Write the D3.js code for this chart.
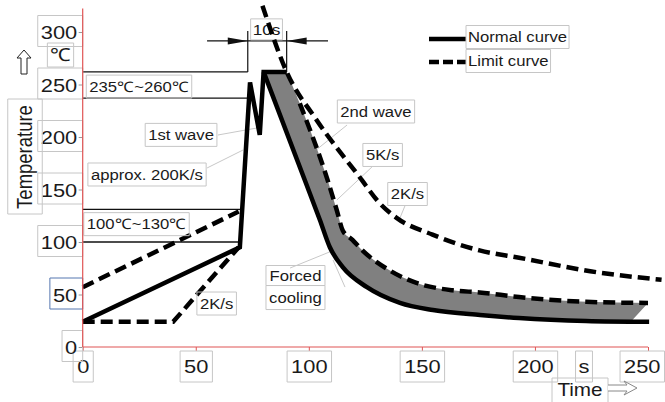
<!DOCTYPE html>
<html>
<head>
<meta charset="utf-8">
<script src="https://cdn.jsdelivr.net/npm/d3@7"></script>
<style>
body { margin: 0; background: #fff; }
svg { display: block; }
text { font-family: "Liberation Sans", Arial, sans-serif; fill: #1a1a1a; }
</style>
</head>
<body>
<svg width="665" height="402"></svg>
<script>
// ticks
const xTicks = [0, 50, 100, 150, 200, 250];
const yTicks = [0, 50, 100, 150, 200, 250, 300];

// curves as [time s, temperature C]
const normalRise = [[0, 24], [69.5, 95], [74, 252], [78.3, 202], [80, 262], [90.2, 262]];
const normalFall = [[80, 262], [98.2, 159], [104.9, 121], [109.3, 95], [115, 76], [125.7, 57], [140.3, 42],
    [154.9, 35.2], [175.7, 30.5], [193, 27.6], [222.6, 24.8], [250.5, 24]];
const limitLow = [[0, 24], [40, 24], [69, 95]];
const limitHigh = [[0, 57], [69, 129]];
const limitInner = [[90.2, 262], [96, 232], [108.3, 159], [112.4, 130], [115, 111], [119.3, 102], [123.7, 92],
    [135.7, 73], [147.6, 61], [163.5, 54], [175.5, 52], [193, 47.6], [222.6, 43], [250, 42]];
const limitOuter = [[79.5, 325], [90.2, 262], [103.5, 216], [122.4, 162], [131.3, 137], [138.8, 123],
    [154.7, 107], [175.5, 92], [193, 85], [228, 71], [256, 64]];
const bandCut = [243, 25.5];

// thin range lines: [temperature, from t, to t]
const rangeLines = [[262, 0, 73], [237, 0, 73], [131, 0, 69.6], [100, 0, 69.6]];
const tenSec = [73, 90.2];

// boxed notes: [t, T, text]
const notes = [
    [24.9, 248, "235℃~260℃"],
    [43.5, 202, "1st wave"],
    [28.4, 164.3, "approx. 200K/s"],
    [23.8, 117, "100℃~130℃"],
    [59.2, 41.4, "2K/s"],
    [129.7, 224.3, "2nd wave"],
    [132.6, 182.9, "5K/s"],
    [143.6, 145.7, "2K/s"]
];
// leader lines: [t1, T1, t2, T2]
const leaders = [
    [59.8, 201.9, 77.1, 208.6],
    [55, 170.5, 70.9, 187.6],
    [91.7, 75.2, 110.2, 91.4],
    [110.7, 82.9, 116, 57.1],
    [116.9, 211.4, 96.1, 175.2],
    [127.9, 171.4, 112.4, 140],
    [142.5, 134.3, 140.3, 122.9]
];

const SX = 1.15; // the picture's text is stretched sideways
const svg = d3.select("svg");
const x = d3.scaleLinear().domain([0, 250]).range([82.7, 648]);
const y = d3.scaleLinear().domain([0, 300]).range([347, 32]);

function boxLabel(sel, px, py, str, size, opt) {
    opt = opt || {};
    const g = sel.append("g").attr("transform", `translate(${px},${py}) scale(${SX},1)`);
    const t = g.append("text")
        .attr("text-anchor", opt.anchor || "middle")
        .attr("dy", "0.35em")
        .attr("font-size", size)
        .text(str);
    const bb = t.node().getBBox();
    const pad = (opt.pad || 3) / SX;
    const h = opt.h || 22;
    let bx = bb.x - pad, bw = bb.width + 2 * pad;
    if (opt.w) { bx = bb.x + bb.width / 2 - opt.w / SX / 2; bw = opt.w / SX; }
    // keep it inside the page
    const over = opt.maxX ? (opt.maxX - px) / SX - (bx + bw) : 0;
    if (over < 0) g.attr("transform", `translate(${px + over * SX},${py}) scale(${SX},1)`);
    g.insert("rect", "text")
        .attr("x", bx).attr("y", -h / 2 + (opt.dyBox || 0))
        .attr("width", bw).attr("height", h)
        .attr("fill", "none")
        .attr("stroke", opt.stroke || "#c6c6c6")
        .attr("vector-effect", "non-scaling-stroke");
    return g;
}

const line = d3.line().x(d => x(d[0])).y(d => y(d[1]));
const smooth = d3.line().x(d => x(d[0])).y(d => y(d[1])).curve(d3.curveMonotoneX);

// leader lines
svg.append("g").selectAll("line").data(leaders).join("line")
    .attr("x1", d => x(d[0])).attr("y1", d => y(d[1]))
    .attr("x2", d => x(d[2])).attr("y2", d => y(d[3]))
    .attr("stroke", "#c8c8c8").attr("stroke-width", 1);

// range lines
svg.append("g").selectAll("line").data(rangeLines).join("line")
    .attr("x1", d => x(d[1])).attr("x2", d => x(d[2]))
    .attr("y1", d => y(d[0])).attr("y2", d => y(d[0]))
    .attr("stroke", "#111").attr("stroke-width", 1.3);

// 10 s dimension
svg.append("g").selectAll("line").data(tenSec).join("line")
    .attr("x1", d => x(d)).attr("x2", d => x(d))
    .attr("y1", y(262)).attr("y2", y(301))
    .attr("stroke", "#111").attr("stroke-width", 1.2);
const dimY = y(291.5);
svg.append("line").attr("x1", x(55)).attr("x2", x(108.5)).attr("y1", dimY).attr("y2", dimY)
    .attr("stroke", "#111").attr("stroke-width", 1.2);
svg.append("path")
    .attr("d", `M${x(tenSec[0])},${dimY} l-20,-3.5 v7 Z M${x(tenSec[1])},${dimY} l20,-3.5 v7 Z`)
    .attr("fill", "#111");
boxLabel(svg, x(81.3), y(302.5), "10s", 15, { h: 21, pad: 2 });

// gray band between normal and inner limit
const lowerPart = normalFall.filter(d => d[0] <= bandCut[0]);
lowerPart.push(bandCut);
const bandD = smooth(limitInner) + "L" + smooth(lowerPart.slice().reverse()).slice(1) + "Z";
svg.append("path").attr("d", bandD).attr("fill", "#808080");

// curves
const solid = svg.append("g").attr("fill", "none").attr("stroke", "#000").attr("stroke-width", 4.5);
solid.append("path").attr("d", line(normalRise)).attr("stroke-linejoin", "miter").attr("stroke-miterlimit", 6);
solid.append("path").attr("d", smooth(normalFall));

const dashed = svg.append("g").attr("fill", "none").attr("stroke", "#000")
    .attr("stroke-width", 4.5).attr("stroke-dasharray", "12,6");
dashed.append("path").attr("d", line(limitLow));
dashed.append("path").attr("d", line(limitHigh));
dashed.append("path").attr("d", smooth(limitInner.slice(1)));
dashed.append("path").attr("d", smooth(limitOuter));

// notes
notes.forEach(n => boxLabel(svg, x(n[0]), y(n[1]), n[2], 14.5, { h: 23 }));
boxLabel(svg, x(94.1), y(68.1), "Forced", 14.5, { h: 20, w: 59 });
boxLabel(svg, x(94.1), y(47.1), "cooling", 14.5, { h: 24, w: 59 });

// axes
const gx = svg.append("g").attr("transform", `translate(0,${y(0)})`)
    .call(d3.axisBottom(x).tickValues(xTicks).tickSize(4));
gx.select(".domain").remove();
gx.selectAll(".tick line").attr("stroke", "#e05555");
gx.selectAll(".tick").each(function (d) {
    const tk = d3.select(this);
    tk.select("text").remove();
    boxLabel(tk, 0, 19.5, String(d), 19, { h: 31, pad: 4, maxX: 664 - x(d) });
});

const gy = svg.append("g").attr("transform", `translate(${x(0)},0)`)
    .call(d3.axisLeft(y).tickValues(yTicks).tickSize(4));
gy.select(".domain").remove();
gy.selectAll(".tick line").attr("stroke", "#999");
gy.selectAll(".tick").each(function (d) {
    const tk = d3.select(this);
    tk.select("text").remove();
    const g = tk.append("g").attr("transform", `translate(-5.5,0) scale(${SX},1)`);
    const t = g.append("text").attr("text-anchor", "end").attr("dy", "0.35em")
        .attr("font-size", 19).text(d);
    const bb = t.node().getBBox();
    g.insert("rect", "text")
        .attr("x", bb.x - 3 / SX).attr("y", -17)
        .attr("width", -bb.x + 3 / SX + 5.5 / SX).attr("height", 31)
        .attr("fill", "none")
        .attr("stroke", d === 50 ? "#5577b0" : "#c6c6c6")
        .attr("vector-effect", "non-scaling-stroke");
});

// red axis lines
svg.append("line").attr("x1", x(0)).attr("x2", x(0)).attr("y1", y(0)).attr("y2", y(322.5))
    .attr("stroke", "#e05555").attr("stroke-width", 1.2);
svg.append("line").attr("x1", x(0)).attr("x2", x(250)).attr("y1", y(0)).attr("y2", y(0))
    .attr("stroke", "#e05555").attr("stroke-width", 1.2);

// unit labels and axis titles
boxLabel(svg, 60.5, 55, "℃", 18, { h: 24, pad: 3 });
boxLabel(svg, 584, 366.5, "s", 19, { h: 31, pad: 3 });
boxLabel(svg, 580, 390, "Time", 18, { h: 30, w: 56, dyBox: 3 });
const tt = svg.append("g").attr("transform", `translate(25,157) scale(${SX},1) rotate(-90)`);
tt.append("rect").attr("x", -57).attr("y", -15).attr("width", 115).attr("height", 30)
    .attr("fill", "none").attr("stroke", "#c6c6c6").attr("vector-effect", "non-scaling-stroke");
tt.append("text").attr("text-anchor", "middle").attr("dy", "0.35em").attr("font-size", 18.5).text("Temperature");

// hollow arrows
svg.append("path").attr("d", "M24,50 L31,58 L27,58 L27,74 L21,74 L21,58 L17,58 Z")
    .attr("fill", "#fff").attr("stroke", "#222").attr("stroke-width", 1);
svg.append("path").attr("d", "M608,385 L627,385 L624,381 L637,388 L624,395 L627,391 L608,391")
    .attr("fill", "#fff").attr("stroke", "#888").attr("stroke-width", 1);

// legend
const lg = svg.append("g");
lg.append("line").attr("x1", 429).attr("x2", 466).attr("y1", 39).attr("y2", 39)
    .attr("stroke", "#000").attr("stroke-width", 4.5);
lg.append("line").attr("x1", 429).attr("x2", 466).attr("y1", 62).attr("y2", 62)
    .attr("stroke", "#000").attr("stroke-width", 4.5).attr("stroke-dasharray", "10,4");
boxLabel(lg, 468, 37, "Normal curve", 14.5, { anchor: "start", h: 23, pad: 2 });
boxLabel(lg, 468, 61, "Limit curve", 14.5, { anchor: "start", h: 23, pad: 2 });
</script>
</body>
</html>
